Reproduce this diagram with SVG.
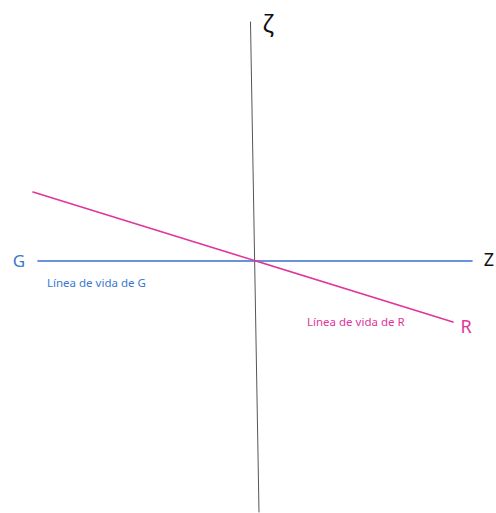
<svg xmlns="http://www.w3.org/2000/svg" width="496" height="513" viewBox="0 0 496 513">
<style>
.hand{font-family:"Comic Sans MS","Noto Sans",sans-serif;}
.blue{fill:#3a78d0;}
.pink{fill:#e0359c;}
</style>
<rect width="496" height="513" fill="#ffffff"/>
<g id="connectors" fill="none" stroke-linecap="round">
<line id="axis-vertical" x1="250.5" y1="22" x2="259" y2="512" stroke="#555555" stroke-width="1"/>
<line id="lifeline-G" x1="38" y1="261" x2="472" y2="261" stroke="#3a6fd0" stroke-width="1.6"/>
<line id="lifeline-R" x1="33" y1="192" x2="453" y2="322" stroke="#e0359c" stroke-width="1.6"/>
</g>
<g id="label-zeta"><text x="268" y="32" class="hand" font-size="24" fill="#111111" text-anchor="middle">ζ</text></g>
<g id="label-G"><text x="19" y="267" class="hand blue" font-size="17" text-anchor="middle">G</text></g>
<g id="label-Z"><text x="489" y="266" class="hand" font-size="18" fill="#111111" text-anchor="middle">Z</text></g>
<g id="label-R"><text x="466" y="333" class="hand pink" font-size="18" text-anchor="middle">R</text></g>
<g id="text-G"><text x="47" y="287" class="hand blue" font-size="11.5">Línea de vida de G</text></g>
<g id="text-R"><text x="307" y="326" class="hand pink" font-size="11.5">Línea de vida de R</text></g>
</svg>
